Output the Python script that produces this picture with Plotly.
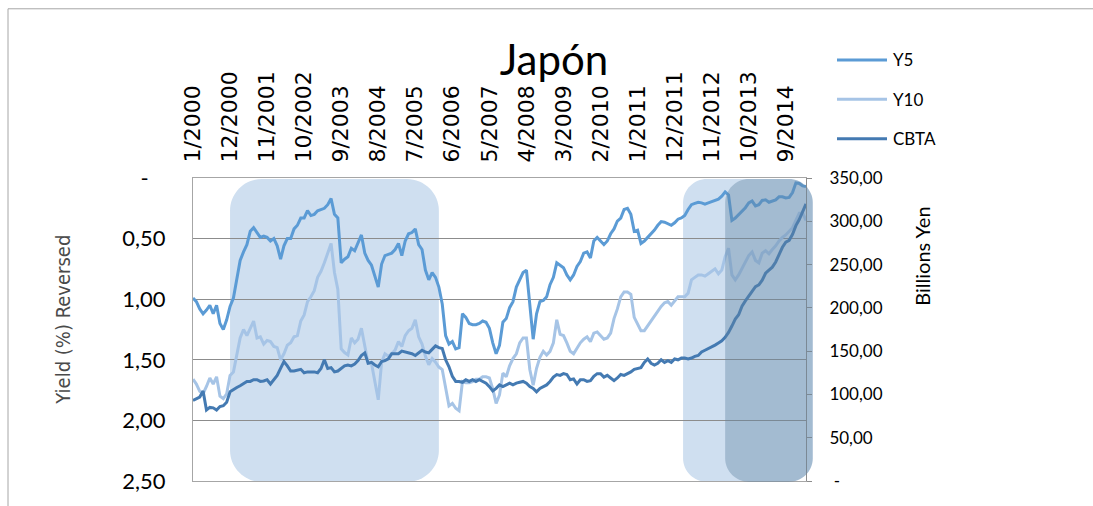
import plotly.graph_objects as go

# ---- data: monthly series, 1/2000 .. 3/2015 ----
months = [f"{m}/{y}" for y in range(2000, 2016) for m in range(1, 13)][:183]

y5 = [
    0.99, 1.02, 1.08, 1.12, 1.09, 1.05, 1.12, 1.05, 1.20, 1.25,
    1.17, 1.06, 0.99, 0.85, 0.68, 0.61, 0.55, 0.44, 0.41, 0.45,
    0.49, 0.48, 0.49, 0.52, 0.50, 0.56, 0.67, 0.56, 0.50, 0.50,
    0.42, 0.39, 0.33, 0.33, 0.27, 0.31, 0.30, 0.27, 0.26, 0.25,
    0.22, 0.17, 0.30, 0.33, 0.70, 0.67, 0.65, 0.58, 0.60, 0.53,
    0.47, 0.62, 0.68, 0.72, 0.82, 0.90, 0.71, 0.64, 0.63, 0.62,
    0.59, 0.54, 0.64, 0.52, 0.46, 0.45, 0.42, 0.55, 0.59, 0.76,
    0.84, 0.78, 0.82, 0.90, 1.04, 1.30, 1.37, 1.35, 1.41, 1.40,
    1.12, 1.15, 1.20, 1.21, 1.21, 1.20, 1.18, 1.19, 1.24, 1.36,
    1.45, 1.38, 1.19, 1.16, 1.07, 1.02, 0.90, 0.84, 0.78, 0.76,
    1.08, 1.33, 1.12, 1.02, 1.01, 0.98, 0.88, 0.82, 0.70, 0.72,
    0.74, 0.80, 0.84, 0.80, 0.73, 0.69, 0.62, 0.61, 0.66, 0.52,
    0.49, 0.52, 0.55, 0.52, 0.46, 0.42, 0.355, 0.33, 0.26, 0.25,
    0.30, 0.44, 0.43, 0.54, 0.52, 0.49, 0.46, 0.43, 0.39, 0.36,
    0.365, 0.38, 0.39, 0.37, 0.34, 0.33, 0.31, 0.26, 0.22, 0.21,
    0.20, 0.205, 0.215, 0.205, 0.195, 0.19, 0.175, 0.15, 0.115, 0.14,
    0.35, 0.33, 0.30, 0.27, 0.245, 0.205, 0.19, 0.23, 0.22, 0.185,
    0.18, 0.20, 0.19, 0.18, 0.155, 0.155, 0.165, 0.16, 0.12, 0.04,
    0.045, 0.065, 0.07,
]

y10 = [
    1.66, 1.70, 1.76, 1.78, 1.72, 1.65, 1.70, 1.64, 1.80, 1.82,
    1.78, 1.63, 1.60, 1.45, 1.32, 1.25, 1.30, 1.24, 1.18, 1.32,
    1.31, 1.37, 1.34, 1.35, 1.39, 1.40, 1.50, 1.45, 1.38, 1.36,
    1.31, 1.30, 1.18, 1.13, 1.02, 0.98, 0.93, 0.82, 0.77, 0.70,
    0.62, 0.54, 0.78, 0.92, 1.41, 1.44, 1.46, 1.32, 1.36, 1.33,
    1.24, 1.40, 1.53, 1.53, 1.67, 1.83, 1.52, 1.45, 1.47, 1.45,
    1.42, 1.35, 1.39, 1.30, 1.26, 1.24, 1.17, 1.31, 1.37, 1.47,
    1.54, 1.49, 1.52, 1.56, 1.58, 1.72, 1.88, 1.86, 1.90, 1.92,
    1.68, 1.69, 1.69, 1.68, 1.66, 1.66, 1.64, 1.64, 1.65, 1.74,
    1.86, 1.79, 1.61, 1.64, 1.55, 1.49, 1.45, 1.36, 1.32, 1.32,
    1.58, 1.71, 1.57, 1.48, 1.43, 1.46, 1.43, 1.36, 1.17, 1.29,
    1.30, 1.36, 1.43, 1.45, 1.40, 1.36, 1.33, 1.31, 1.35, 1.28,
    1.27, 1.30, 1.33, 1.32, 1.28, 1.16, 1.08, 0.98, 0.94, 0.94,
    0.96, 1.15, 1.20, 1.26, 1.26, 1.22, 1.17, 1.14, 1.10, 1.06,
    1.03, 1.02, 1.05, 1.01, 0.98, 0.98, 0.98, 0.95, 0.84, 0.82,
    0.80, 0.80, 0.81, 0.79, 0.77, 0.75, 0.79, 0.76, 0.65, 0.58,
    0.80, 0.84, 0.80, 0.75, 0.69, 0.64, 0.61, 0.68, 0.70, 0.62,
    0.60, 0.625, 0.59, 0.56, 0.52, 0.49, 0.47, 0.44, 0.41, 0.35,
    0.29, 0.29, 0.35,
]

cbta = [
    93, 95, 97, 104, 82, 85, 84.5, 82, 86, 87,
    91, 103, 106, 108, 110, 113, 115, 115, 117, 117,
    115, 115.5, 117, 112, 117, 122, 130, 138, 133, 127,
    127, 128, 129, 125, 126, 126, 126, 125, 130, 140,
    130, 131, 126, 127, 130, 133, 134, 133, 135, 139,
    145, 148, 136, 137, 134, 132, 138, 139, 141, 147,
    147, 147, 150, 149, 148, 147, 145, 148, 151, 149,
    148, 152, 156, 154, 153, 140, 132, 121, 115, 115,
    114, 117, 115, 117, 115, 117, 115, 113, 109, 104,
    107, 111, 109, 111, 113, 111, 113, 114, 115, 113,
    109, 107, 103, 107, 109, 111, 115, 120, 123, 122,
    124, 123, 117, 118, 112, 117, 117, 115, 116, 121,
    124, 124, 120, 122, 119, 116, 119, 123, 122, 124,
    126, 129, 130, 131, 137, 141, 136, 134, 136, 140,
    137, 139, 137, 141, 140, 142, 142, 141, 142, 144,
    145, 149, 151, 153, 154.5, 157, 159.5, 162, 166, 171.6,
    179, 187, 192, 202, 208, 213, 219, 224.6, 226.5, 232,
    240, 243.6, 247, 253, 261, 270, 276, 278, 285, 295,
    302, 312, 320,
]

tick_labels = ["1/2000", "12/2000", "11/2001", "10/2002", "9/2003", "8/2004",
               "7/2005", "6/2006", "5/2007", "4/2008", "3/2009", "2/2010",
               "1/2011", "12/2011", "11/2012", "10/2013", "9/2014"]

yield_ticks = [0, 0.5, 1.0, 1.5, 2.0, 2.5]
yield_labels = ["-\u00a0\u00a0\u00a0", "0,50", "1,00", "1,50", "2,00", "2,50"]
cbta_ticks = [0, 50, 100, 150, 200, 250, 300, 350]
cbta_labels = ["\u00a0-", "50,00", "100,00", "150,00", "200,00", "250,00", "300,00", "350,00"]

# shaded periods (month index start, end) and their fill
shade_periods = [(11, 73, "rgb(207,223,240)", 1.0, 32, "below"),
                 (145.5, 184, "rgb(207,223,240)", 1.0, 24, "below"),
                 (158, 184, "rgb(97,133,163)", 0.4, 24, "above")]

series_names = ["Y5", "Y10", "CBTA"]
series_colors = ["rgb(91,155,213)", "rgb(166,196,230)", "rgb(68,122,178)"]

# ---- layout geometry (px) ----
W, H = 1093, 506
ML, MR, MT, MB = 193, 287, 178, 20
PW, PH = W - ML - MR, H - MT - MB
XMIN, XMAX = 0, len(months) - 1

def px_x(px):
    return (px - ML) / PW

def px_y(py):
    return (H - MB - py) / PH

def month_x(i):
    return (i - XMIN) / (XMAX - XMIN)

def rounded_rect(x0, x1, y0, y1, r):
    rx, ry = r / PW, r / PH
    k = 0.45
    return (f"M{x0+rx},{y1} L{x1-rx},{y1} "
            f"C{x1-rx*k},{y1} {x1},{y1-ry*k} {x1},{y1-ry} "
            f"L{x1},{y0+ry} C{x1},{y0+ry*k} {x1-rx*k},{y0} {x1-rx},{y0} "
            f"L{x0+rx},{y0} C{x0+rx*k},{y0} {x0},{y0+ry*k} {x0},{y0+ry} "
            f"L{x0},{y1-ry} C{x0},{y1-ry*k} {x0+rx*k},{y1} {x0+rx},{y1} Z")

BODY = "Lato, 'Open Sans', sans-serif"

fig = go.Figure()
for name, vals, color, axis in zip(series_names, [y5, y10, cbta], series_colors, ["y", "y", "y2"]):
    fig.add_trace(go.Scatter(x=months, y=vals, name=name, mode="lines", yaxis=axis,
                             line=dict(color=color, width=3), showlegend=False,
                             hoverinfo="skip"))

shapes = []
for s, e, col, op, r, layer in shade_periods:
    shapes.append(dict(type="path", xref="paper", yref="paper",
                       path=rounded_rect(month_x(s), month_x(e), px_y(487), px_y(179), r),
                       fillcolor=col, opacity=op, line=dict(width=0), layer=layer))

# outer chart frame
shapes.append(dict(type="rect", xref="paper", yref="paper",
                   x0=px_x(8), x1=px_x(1110), y0=px_y(6), y1=px_y(515),
                   line=dict(color="#a6a6a6", width=1), layer="below"))

annotations = []
# legend entries
for k, (name, color) in enumerate(zip(series_names, series_colors)):
    yy = 58 + 40 * k
    shapes.append(dict(type="line", xref="paper", yref="paper",
                       x0=px_x(837), x1=px_x(887), y0=px_y(yy), y1=px_y(yy),
                       line=dict(color=color, width=3)))
    annotations.append(dict(text=name, xref="paper", yref="paper", x=px_x(891), y=px_y(yy),
                            xanchor="left", yanchor="middle", showarrow=False,
                            font=dict(family=BODY, size=17, color="#000")))

annotations.append(dict(text="Yield (%) Reversed", xref="paper", yref="paper",
                        x=px_x(63), y=px_y(322), textangle=-90, showarrow=False,
                        xanchor="center", yanchor="middle",
                        font=dict(family="'Liberation Sans Narrow', 'DejaVu Sans Condensed', Lato, sans-serif",
                                  size=20, color="#4a4a4a")))
annotations.append(dict(text="Billions Yen", xref="paper", yref="paper",
                        x=px_x(922), y=px_y(258), textangle=-90, showarrow=False,
                        xanchor="center", yanchor="middle",
                        font=dict(family=BODY, size=20, color="#000")))

fig.update_layout(
    width=W, height=H,
    margin=dict(l=ML, r=MR, t=MT, b=MB, pad=0),
    paper_bgcolor="white", plot_bgcolor="white",
    title=dict(text="Japón", x=554 / W, xanchor="center", y=1 - 60 / H, yanchor="middle",
               font=dict(family=BODY, size=42, color="#000")),
    xaxis=dict(type="category", range=[XMIN, XMAX], side="top",
               tickmode="array", tickvals=tick_labels, ticktext=tick_labels,
               tickangle=-90, ticks="", ticklabelstandoff=10,
               tickfont=dict(family="'DejaVu Sans', sans-serif", size=22, color="#000"),
               showgrid=False, showline=True, mirror=True, linecolor="#a6a6a6", linewidth=1,
               zeroline=False),
    yaxis=dict(range=[2.5, 0], tickmode="array", tickvals=yield_ticks, ticktext=yield_labels,
               ticks="", ticklabelstandoff=22,
               tickfont=dict(family=BODY, size=22, color="#000"),
               showgrid=True, gridcolor="#8c8c8c", gridwidth=1,
               showline=True, mirror=True, linecolor="#a6a6a6", linewidth=1, zeroline=False),
    yaxis2=dict(range=[0, 350], overlaying="y", side="right", anchor="x",
                tickmode="array", tickvals=cbta_ticks, ticktext=cbta_labels,
                ticks="outside", ticklen=5, tickcolor="#8c8c8c", ticklabelstandoff=14,
                tickfont=dict(family=BODY, size=17, color="#000"),
                showgrid=False, showline=True, linecolor="#8c8c8c", zeroline=False),
    shapes=shapes,
    annotations=annotations,
)

fig.write_html("out.html")
